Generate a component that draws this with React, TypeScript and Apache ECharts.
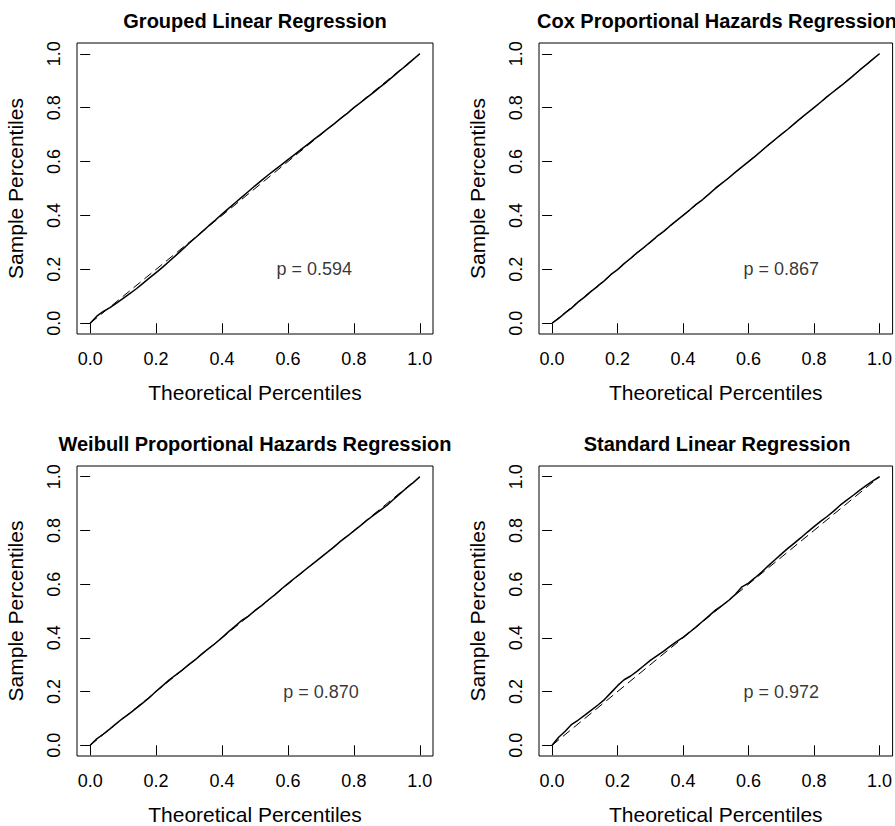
import React, { useEffect, useRef } from "react";
import * as echarts from "echarts";

// Theoretical percentiles (x values)
const theoretical = [
  0, 0.02, 0.04, 0.06, 0.08, 0.1, 0.12, 0.14, 0.16, 0.18, 0.2, 0.22, 0.24, 0.26, 0.28, 0.3,
  0.32, 0.34, 0.36, 0.38, 0.4, 0.42, 0.44, 0.46, 0.48, 0.5, 0.52, 0.54, 0.56, 0.58, 0.6,
  0.62, 0.64, 0.66, 0.68, 0.7, 0.72, 0.74, 0.76, 0.78, 0.8, 0.82, 0.84, 0.86, 0.88, 0.9,
  0.92, 0.94, 0.96, 0.98, 1.0,
];

// Sample percentiles for each panel
const groupedLinear = [
  0, 0.026, 0.044, 0.058, 0.075, 0.092, 0.11, 0.128, 0.148, 0.168, 0.188, 0.208, 0.23, 0.252,
  0.274, 0.297, 0.318, 0.34, 0.362, 0.383, 0.405, 0.426, 0.447, 0.468, 0.489, 0.51, 0.53,
  0.55, 0.569, 0.588, 0.607, 0.626, 0.645, 0.664, 0.683, 0.702, 0.721, 0.74, 0.76, 0.779, 0.8,
  0.819, 0.838, 0.857, 0.877, 0.896, 0.917, 0.938, 0.958, 0.979, 1.0,
];
const coxPH = [
  0, 0.018, 0.038, 0.057, 0.079, 0.098, 0.119, 0.138, 0.158, 0.181, 0.199, 0.221, 0.241, 0.262,
  0.281, 0.301, 0.322, 0.34, 0.361, 0.381, 0.4, 0.42, 0.441, 0.459, 0.48, 0.502, 0.521, 0.54,
  0.561, 0.58, 0.6, 0.619, 0.64, 0.661, 0.681, 0.701, 0.72, 0.741, 0.761, 0.781, 0.8, 0.82,
  0.841, 0.86, 0.879, 0.898, 0.919, 0.94, 0.96, 0.98, 1.0,
];
const weibullPH = [
  0, 0.024, 0.042, 0.061, 0.082, 0.101, 0.119, 0.138, 0.158, 0.178, 0.201, 0.222, 0.244, 0.262,
  0.281, 0.301, 0.32, 0.341, 0.361, 0.38, 0.401, 0.423, 0.444, 0.465, 0.481, 0.502, 0.52, 0.541,
  0.56, 0.582, 0.602, 0.622, 0.641, 0.661, 0.68, 0.7, 0.719, 0.739, 0.76, 0.779, 0.798, 0.818,
  0.838, 0.857, 0.875, 0.893, 0.915, 0.937, 0.958, 0.978, 1.0,
];
const standardLinear = [
  0, 0.03, 0.052, 0.078, 0.094, 0.112, 0.131, 0.15, 0.17, 0.196, 0.222, 0.244, 0.258, 0.276,
  0.296, 0.316, 0.333, 0.35, 0.368, 0.386, 0.402, 0.421, 0.441, 0.462, 0.483, 0.504, 0.521,
  0.54, 0.562, 0.59, 0.604, 0.624, 0.645, 0.668, 0.69, 0.712, 0.733, 0.753, 0.773, 0.794, 0.814,
  0.834, 0.852, 0.872, 0.894, 0.913, 0.931, 0.95, 0.968, 0.985, 1.0,
];

const samples = [groupedLinear, coxPH, weibullPH, standardLinear];
const titles = [
  "Grouped Linear Regression",
  "Cox Proportional Hazards Regression",
  "Weibull Proportional Hazards Regression",
  "Standard Linear Regression",
];
const pValues = ["0.594", "0.867", "0.870", "0.972"];
const pLabelX = [0.68, 0.7, 0.7, 0.7];
const pLabelY = [0.2, 0.2, 0.2, 0.2];
const refLine = [0, 1];
const tickValues = [0, 0.2, 0.4, 0.6, 0.8, 1.0];

const FONT = "Liberation Sans, Arial, sans-serif";
const gridPos = [
  { left: 77, top: 43 },
  { left: 539, top: 43 },
  { left: 77, top: 466 },
  { left: 539, top: 466 },
];
const GW = 356;
const GH = 291;

export default function App() {
  const ref = useRef<HTMLDivElement>(null);
  useEffect(() => {
    if (!ref.current) return;
    const chart = echarts.init(ref.current, null, { renderer: "svg" });
    const grids = gridPos.map((g) => ({
      left: g.left,
      top: g.top,
      width: GW,
      height: GH,
      show: true,
      borderColor: "#000",
      borderWidth: 1,
      backgroundColor: "transparent",
    }));
    const axisCommon = (name: string, gap: number, isY: boolean) => ({
      type: "value",
      min: -0.04,
      max: 1.04,
      name,
      nameLocation: "middle",
      nameGap: gap,
      nameTextStyle: { color: "#000", fontSize: 21, fontFamily: FONT },
      axisLine: { show: false },
      splitLine: { show: false },
      axisTick: {
        show: true,
        inside: false,
        length: 10,
        customValues: tickValues,
        lineStyle: { color: "#000", width: 1 },
      },
      axisLabel: {
        show: true,
        customValues: tickValues,
        color: "#000",
        fontSize: 18,
        fontFamily: FONT,
        margin: isY ? 14 : 16,
        rotate: isY ? 90 : 0,
        formatter: (v: number) => v.toFixed(1),
      },
    });
    const xAxes = gridPos.map((_, i) => ({
      ...axisCommon("Theoretical Percentiles", 48, false),
      gridIndex: i,
    }));
    const yAxes = gridPos.map((_, i) => ({
      ...axisCommon("Sample Percentiles", 51, true),
      gridIndex: i,
    }));
    const series: any[] = [];
    samples.forEach((ys, i) => {
      series.push({
        type: "line",
        xAxisIndex: i,
        yAxisIndex: i,
        data: refLine.map((v) => [v, v]),
        showSymbol: false,
        symbol: "none",
        lineStyle: { color: "#000", width: 1, type: [9, 5] },
        z: 2,
      });
      series.push({
        type: "line",
        xAxisIndex: i,
        yAxisIndex: i,
        data: theoretical.map((x, j) => [x, ys[j]]),
        showSymbol: false,
        symbol: "none",
        lineStyle: { color: "#000", width: 1.5 },
        z: 3,
      });
      series.push({
        type: "scatter",
        xAxisIndex: i,
        yAxisIndex: i,
        data: [[pLabelX[i], pLabelY[i]]],
        symbolSize: 1,
        itemStyle: { color: "rgba(0,0,0,0)" },
        label: {
          show: true,
          position: "inside",
          formatter: "p = " + pValues[i],
          color: "#000",
          fontSize: 18,
          fontFamily: FONT,
        },
        silent: true,
      });
    });
    const graphic = titles.map((t, i) => ({
      type: "text",
      x: gridPos[i].left + GW / 2,
      y: gridPos[i].top - 22,
      style: {
        text: t,
        font: `bold 20px ${FONT}`,
        fill: "#000",
        textAlign: "center",
        textVerticalAlign: "middle",
      },
      z: 10,
    }));
    chart.setOption({
      animation: false,
      backgroundColor: "#fff",
      grid: grids,
      xAxis: xAxes,
      yAxis: yAxes,
      series,
      graphic,
    });
    return () => chart.dispose();
  }, []);
  return (
    <div
      ref={ref}
      style={{ position: "fixed", left: 0, top: 0, width: 895, height: 826 }}
    />
  );
}
